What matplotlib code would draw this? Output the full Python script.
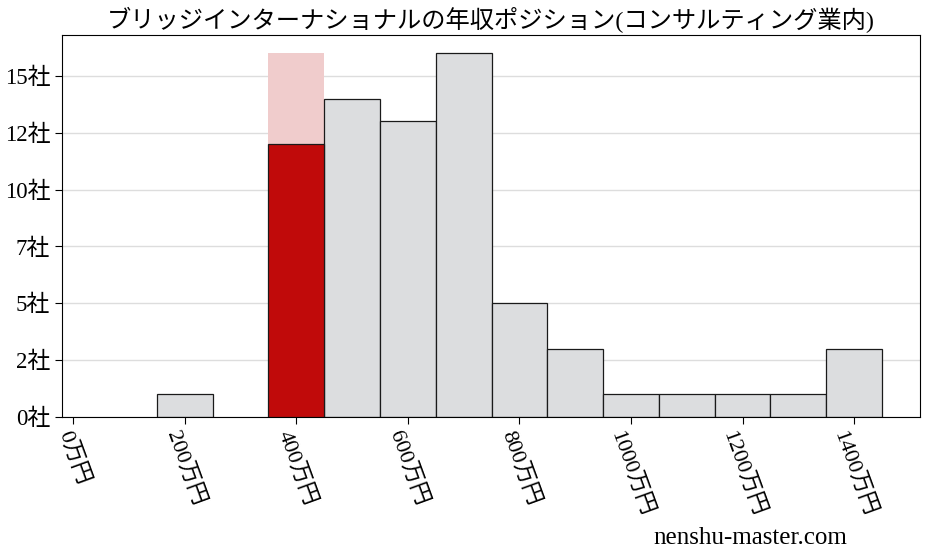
import matplotlib
matplotlib.use("Agg")
from matplotlib import pyplot as plt
from matplotlib.ticker import FuncFormatter, MultipleLocator

plt.rcParams['font.family'] = ['Liberation Serif', 'Noto Sans CJK JP', 'DejaVu Sans']

# salary bins (万円, bin centres) and number of companies
salary = [200, 400, 500, 600, 700, 800, 900, 1000, 1100, 1200, 1300, 1400]
counts = [1, 16, 14, 13, 16, 5, 3, 1, 1, 1, 1, 3]
own_salary = 400
own_count = 12

title = "ブリッジインターナショナルの年収ポジション(コンサルティング業内)"
xticks = [0, 200, 400, 600, 800, 1000, 1200, 1400]

fig = plt.figure(figsize=(9.28, 5.57), dpi=100)
ax = fig.add_axes([62 / 928, 1 - 417 / 557, 858 / 928, 382 / 557])

for x, c in zip(salary, counts):
    if x == own_salary:
        ax.bar(x, c, width=100, color='#f0cccc', zorder=2)
    else:
        ax.bar(x, c, width=100, color='#dcdddf', edgecolor='#1a1a1a', linewidth=0.9, zorder=2)
ax.bar(own_salary, own_count, width=100, color='#c00a0a', edgecolor='#1a1a1a', linewidth=0.9, zorder=3)

ax.set_xlim(-20, 1518)
ax.set_ylim(0, 16.8)
ax.yaxis.set_major_locator(MultipleLocator(2.5))
ax.yaxis.set_major_formatter(FuncFormatter(lambda v, p: "%d社" % int(v)))
ax.set_xticks(xticks)
ax.set_xticklabels(["%d万円" % v for v in xticks], rotation=-70, ha='center')
ax.tick_params(labelsize=16.5, length=5)
ax.tick_params(axis='x', labelsize=16)
ax.grid(axis='y', color='#dddddd', linewidth=1)
ax.set_axisbelow(True)

ax.set_title(title, fontsize=17.5, pad=5)
fig.text(0.809, 0.035, "nenshu-master.com", fontsize=18, ha='center', va='center')

fig.savefig("out.png", dpi=100)
